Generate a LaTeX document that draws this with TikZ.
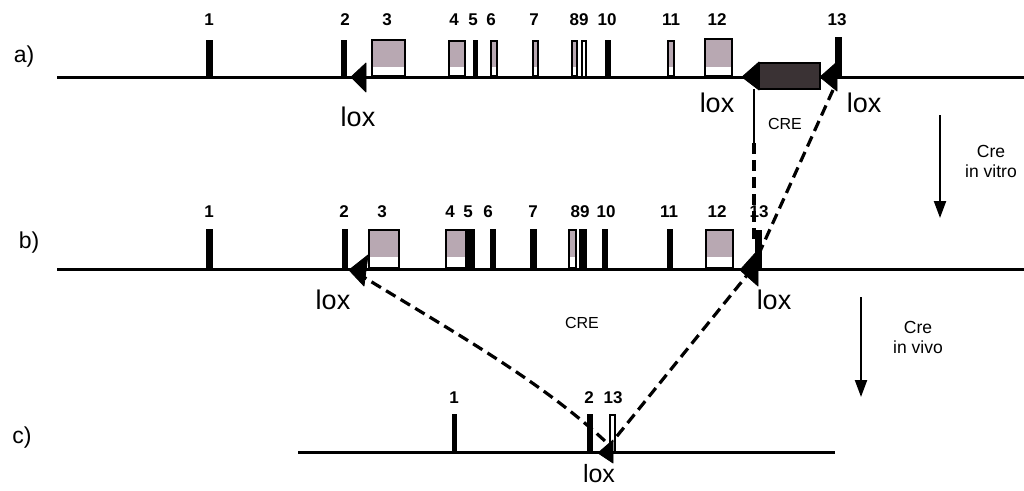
\documentclass[tikz,border=0pt]{standalone}
\usepackage{fontspec}
\setmainfont{Liberation Sans}
\usetikzlibrary{arrows.meta}
\definecolor{mauve}{HTML}{B8A8B2}
\definecolor{credark}{HTML}{3A3234}
\tikzset{
  genome/.style={line width=3pt},
  boxexon/.style={draw=black,line width=2.4pt},
  thinexon/.style={draw=black,line width=1.9pt},
  loxtri/.style={fill=black,draw=black,line width=0.8pt,line join=round},
  num/.style={font=\bfseries\fontsize{17}{17}\selectfont,inner sep=0pt},
  loxlbl/.style={font=\fontsize{27}{27}\selectfont,inner sep=0pt},
  rowlbl/.style={font=\fontsize{23}{23}\selectfont,inner sep=0pt},
  crelbl/.style={font=\fontsize{16}{16}\selectfont,inner sep=0pt},
  crenote/.style={font=\fontsize{17.5}{20}\selectfont,inner sep=0pt,align=center},
  dashcon/.style={line width=3.2pt,dash pattern=on 11pt off 6pt},
  solidcon/.style={line width=2.6pt},
  crearrow/.style={line width=2.2pt,-{Triangle[length=17pt,width=12pt]}}
}
\begin{document}
\begin{tikzpicture}[x=1pt,y=-1pt]
\useasboundingbox (0,0) rectangle (1024,490);
\fill[white] (0,0) rectangle (1024,490);

% ---------------- row a ----------------
\node[rowlbl] (la) at (24,57) {a)};
\coordinate (aL) at (57,77);
\coordinate (aR) at (1024,77);
\draw[genome] (aL) -- (aR);
\foreach \l/\r in {206/213,341/347,473/478,605/611}
  \fill (\l,40) rectangle (\r,77);
\fill (835,37) rectangle (842,77);
\foreach \l/\r/\t in {371/406/39,448/466/40,704/733/38,490/498/40,532/539/40,571/578/40,667/675/40}{
  \fill[mauve] (\l,\t) rectangle (\r,67);
  \draw[boxexon] ({\l+1.2},{\t+1.2}) rectangle ({\r-1.2},76.5);
}
\draw[thinexon] (581.9,40.9) rectangle (585.6,76.5);
\foreach \n/\x in {1/209,2/345,3/387,4/454,5/473,6/491,7/534,89/579,10/607,11/671,12/717,13/837}
  \node[num] (na\n) at (\x,20) {\n};

% CRE cassette
\fill[credark] (759,63) rectangle (820,89);
\draw[line width=1.8pt] (759,63) rectangle (820,89);
\fill[loxtri] (742,77) -- (759,62) -- (759,90) -- cycle;
\fill[loxtri] (820,77) -- (837,62) -- (837,91) -- cycle;
\fill[loxtri] (351,77) -- (366,63) -- (366,92) -- cycle;
\node[loxlbl] (loxa1) at (358,117) {lox};
\node[loxlbl] (loxa2) at (717,103) {lox};
\node[loxlbl] (loxa3) at (864,103) {lox};
\node[crelbl] (crea) at (785,124) {CRE};

% ---------------- row b ----------------
\node[rowlbl] (lb) at (29,243) {b)};
\coordinate (bL) at (57,269);
\coordinate (bR) at (1024,269);
\draw[genome] (bL) -- (bR);
\foreach \l/\r in {206/213,342/348,467/475,490/496,530/537,579/587,602/608,667/673}
  \fill (\l,229) rectangle (\r,269);
\fill (755,230) rectangle (762,269);
\foreach \l/\r in {368/400,445/467,705/734,568/577}{
  \fill[mauve] (\l,229) rectangle (\r,257);
  \draw[boxexon] ({\l+1.2},230.2) rectangle ({\r-1.2},268.5);
}
\foreach \n/\x in {1/209,2/344,3/382,4/450,5/468,6/488,7/533,89/580,10/606,11/669,12/717,13/759}
  \node[num] (nb\n) at (\x,212) {\n};
\fill[loxtri] (349,270) -- (368,255) -- (364,286) -- cycle;
\fill[loxtri] (740,270) -- (758,250) -- (758,286) -- cycle;
\node[loxlbl] (loxb1) at (333,300) {lox};
\node[loxlbl] (loxb2) at (774,300) {lox};
\node[crelbl] (creb) at (582,323) {CRE};

% ---------------- row c ----------------
\node[rowlbl] (lc) at (22,438) {c)};
\coordinate (cL) at (298,452);
\coordinate (cR) at (835,452);
\draw[genome] (cL) -- (cR);
\fill (452,414) rectangle (457,452);
\fill (587,414) rectangle (593,452);
\draw[thinexon] (609.9,414.9) rectangle (615.1,451.5);
\node[num] (nc1) at (454,398) {1};
\node[num] (nc2) at (589,398) {2};
\node[num] (nc13) at (613,398) {13};
\fill[loxtri] (598,453) -- (613,440) -- (613,463) -- cycle;
\node[loxlbl,font=\fontsize{25}{25}\selectfont] (loxc) at (599,474) {lox};

% ---------------- connectors ----------------
\coordinate (creBL) at (754,89);
\coordinate (creSplit) at (754,143);
\coordinate (bTop) at (754,242);
\coordinate (loxAR) at (833,90);
\coordinate (loxBR) at (752,269);
\coordinate (loxCR) at (613,441);
\coordinate (loxBL) at (357,273);
\coordinate (loxCL) at (606,442);
\draw[solidcon] (creBL) -- (creSplit);
\draw[dashcon] (creSplit) -- (bTop);
\draw[dashcon] (loxAR) -- (loxBR);
\draw[dashcon] (loxBR) -- (loxCR);
\draw[dashcon] (loxBL) .. controls (450,330) and (540,380) .. (loxCL);

% ---------------- Cre arrows ----------------
\coordinate (vitroS) at (940,115);
\coordinate (vitroE) at (940,218);
\coordinate (vivoS) at (861,297);
\coordinate (vivoE) at (861,397);
\draw[crearrow] (vitroS) -- (vitroE);
\draw[crearrow] (vivoS) -- (vivoE);
\node[crenote] (vitro) at (991,161) {Cre\\in vitro};
\node[crenote] (vivo) at (918,337) {Cre\\in vivo};
\end{tikzpicture}
\end{document}
